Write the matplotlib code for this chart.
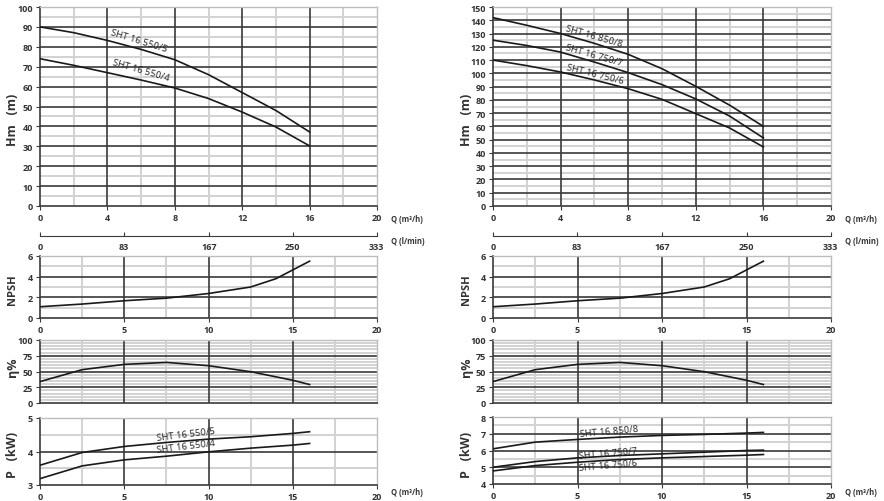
import matplotlib

matplotlib.use("Agg")
import matplotlib.pyplot as plt

plt.rcParams["font.family"] = ["Open Sans", "DejaVu Sans"]

# --- head curves (Q in m3/h) ---
q_head = [0, 2, 4, 6, 8, 10, 12, 14, 16]
h_550_5 = [90, 87.1, 83.2, 78.7, 73.5, 66, 57, 48, 37.2]
h_550_4 = [74, 70.7, 67, 63.3, 59.3, 54, 47.2, 39.7, 30.2]
h_850_8 = [142, 136.2, 130, 122.6, 114.3, 103.5, 90.2, 76, 60]
h_750_7 = [125, 121, 116, 108.5, 100.5, 91.5, 80.7, 67.8, 51.3]
h_750_6 = [110, 105.8, 101, 95, 88.4, 80.4, 69.6, 58.8, 44.5]

# --- NPSH / efficiency / power ---
q_low = [0, 2.5, 5, 7.5, 10, 12.5, 14, 15, 16]
npsh = [1.09, 1.35, 1.67, 1.92, 2.37, 3.0, 3.8, 4.65, 5.5]
q_eff = [0, 2.5, 5, 7.5, 10, 12.5, 15, 16]
eff = [34, 52.9, 61.3, 64.4, 59.2, 49.7, 36.1, 29.3]
q_pow = [0, 2.5, 5, 7.5, 10, 12.5, 15, 16]
p_550_5 = [3.59, 3.97, 4.15, 4.27, 4.37, 4.44, 4.54, 4.59]
p_550_4 = [3.19, 3.57, 3.75, 3.86, 3.99, 4.1, 4.19, 4.24]
p_850_8 = [6.1, 6.5, 6.66, 6.8, 6.9, 6.96, 7.04, 7.08]
p_750_7 = [5.0, 5.34, 5.56, 5.7, 5.8, 5.9, 6.0, 6.02]
p_750_6 = [4.78, 5.1, 5.3, 5.46, 5.56, 5.64, 5.72, 5.76]

lmin_ticks = [0, 83, 167, 250, 333]

TXT = "#333333"
MAJ = "#3a3a3a"
MIN = "#d2d2d2"

fig = plt.figure(figsize=(8.84, 5.02), dpi=100)
W, H = 884, 502


def add_ax(x0, x1, y_top, y_bot):
    return fig.add_axes([x0 / W, 1 - y_bot / H, (x1 - x0) / W, (y_bot - y_top) / H])


def grid(ax, xmaj, xmin, ymaj, ymin, xlim, ylim, xlabels=True):
    ax.set_xlim(*xlim)
    ax.set_ylim(*ylim)
    for v in xmin:
        ax.axvline(v, color=MIN, lw=1.4, zorder=0)
    for v in ymin:
        ax.axhline(v, color=MIN, lw=1.4, zorder=0)
    for v in xmaj[1:-1]:
        ax.axvline(v, color=MAJ, lw=1.2, zorder=1)
    for v in ymaj[1:-1]:
        ax.axhline(v, color=MAJ, lw=1.2, zorder=1)
    ax.set_xticks(xmaj)
    ax.set_yticks(ymaj)
    ax.tick_params(length=3, width=0.8, color=MAJ, labelsize=6.5,
                   labelcolor=TXT, pad=2)
    for lab in ax.get_xticklabels() + ax.get_yticklabels():
        lab.set_fontweight("bold")
    if not xlabels:
        ax.set_xticklabels([])
        ax.tick_params(axis="x", length=0)
    for s in ("top", "right"):
        ax.spines[s].set_color("#bdbdbd")
        ax.spines[s].set_linewidth(1.0)
    for s in ("left", "bottom"):
        ax.spines[s].set_color(MAJ)
        ax.spines[s].set_linewidth(1.2)


def lmin_axis(x0, x1, y):
    ax = add_ax(x0, x1, y - 1, y)
    ax.set_xlim(0, 333.33)
    ax.set_ylim(0, 1)
    ax.set_yticks([])
    for s in ("top", "right", "left"):
        ax.spines[s].set_visible(False)
    ax.spines["bottom"].set_color(MAJ)
    ax.set_xticks(lmin_ticks)
    ax.tick_params(axis="x", direction="in", length=3, color=MAJ,
                   labelsize=6.5, labelcolor=TXT, pad=4)
    for lab in ax.get_xticklabels():
        lab.set_fontweight("bold")
    ax.patch.set_alpha(0)


def curve_label(ax, x, y, s, rot):
    ax.text(x, y, s, fontsize=6.8, color="#222222", rotation=rot,
            ha="left", va="baseline", rotation_mode="anchor", zorder=4)


panels = [(40, 377, "left"), (493, 831, "right")]

for x0, x1, side in panels:
    # head chart
    ax = add_ax(x0, x1, 8, 207)
    if side == "left":
        grid(ax, [0, 4, 8, 12, 16, 20], [2, 6, 10, 14, 18],
             list(range(0, 101, 10)), list(range(5, 100, 10)), (0, 20), (0, 100))
        ax.plot(q_head, h_550_5, color="#1a1a1a", lw=1.2, zorder=3)
        ax.plot(q_head, h_550_4, color="#1a1a1a", lw=1.2, zorder=3)
        curve_label(ax, 4.15, 86.2, "SHT 16 550/5", -17)
        curve_label(ax, 4.26, 71.5, "SHT 16 550/4", -16)
    else:
        grid(ax, [0, 4, 8, 12, 16, 20], [2, 6, 10, 14, 18],
             list(range(0, 151, 10)), list(range(5, 150, 10)), (0, 20), (0, 150))
        ax.plot(q_head, h_850_8, color="#1a1a1a", lw=1.2, zorder=3)
        ax.plot(q_head, h_750_7, color="#1a1a1a", lw=1.2, zorder=3)
        ax.plot(q_head, h_750_6, color="#1a1a1a", lw=1.2, zorder=3)
        curve_label(ax, 4.26, 133.0, "SHT 16 850/8", -16)
        curve_label(ax, 4.26, 118.0, "SHT 16 750/7", -16)
        curve_label(ax, 4.32, 103.5, "SHT 16 750/6", -14)
    fig.text((x1 + 14) / W, 1 - 220 / H, "Q (m³/h)", fontsize=5.5,
             fontweight="bold", color=TXT, va="center")

    lmin_axis(x0, x1, 237)
    fig.text((x1 + 14) / W, 1 - 242 / H, "Q (l/min)", fontsize=5.5,
             fontweight="bold", color=TXT, va="center")

    # NPSH
    ax = add_ax(x0, x1, 257, 319)
    grid(ax, [0, 5, 10, 15, 20], [2.5, 7.5, 12.5, 17.5],
         [0, 2, 4, 6], [1, 3, 5], (0, 20), (0, 6))
    ax.plot(q_low, npsh, color="#1a1a1a", lw=1.2, zorder=3)

    # efficiency
    ax = add_ax(x0, x1, 341, 404)
    grid(ax, [0, 5, 10, 15, 20], [2.5, 7.5, 12.5, 17.5],
         [0, 25, 50, 75, 100], [v for v in range(5, 100, 5) if v % 25],
         (0, 20), (0, 100), xlabels=False)
    ax.plot(q_eff, eff, color="#1a1a1a", lw=1.2, zorder=3)

    # power
    if side == "left":
        ax = add_ax(x0, x1, 419, 486)
        grid(ax, [0, 5, 10, 15, 20], [2.5, 7.5, 12.5, 17.5],
             [3, 4, 5], [3.5, 4.5], (0, 20), (3, 5))
        ax.plot(q_pow, p_550_5, color="#1a1a1a", lw=1.2, zorder=3)
        ax.plot(q_pow, p_550_4, color="#1a1a1a", lw=1.2, zorder=3)
        curve_label(ax, 6.93, 4.34, "SHT 16 550/5", 7)
        curve_label(ax, 6.93, 3.98, "SHT 16 550/4", 7)
    else:
        ax = add_ax(x0, x1, 418, 485)
        grid(ax, [0, 5, 10, 15, 20], [2.5, 7.5, 12.5, 17.5],
             [4, 5, 6, 7, 8], [4.5, 5.5, 6.5, 7.5], (0, 20), (4, 8))
        ax.plot(q_pow, p_850_8, color="#1a1a1a", lw=1.2, zorder=3)
        ax.plot(q_pow, p_750_7, color="#1a1a1a", lw=1.2, zorder=3)
        ax.plot(q_pow, p_750_6, color="#1a1a1a", lw=1.2, zorder=3)
        curve_label(ax, 5.15, 6.85, "SHT 16 850/8", 5)
        curve_label(ax, 5.11, 5.53, "SHT 16 750/7", 5)
        curve_label(ax, 5.11, 4.84, "SHT 16 750/6", 5)
    fig.text((x1 + 14) / W, 1 - 493 / H, "Q (m³/h)", fontsize=5.5,
             fontweight="bold", color=TXT, va="center")

    # y-axis titles
    lx = (x0 - 27) / W
    fig.text(lx, 1 - 120 / H, "Hm   (m)", rotation=90, fontsize=9,
             fontweight="bold", color=TXT, ha="center", va="center")
    fig.text(lx, 1 - 290 / H, "NPSH", rotation=90, fontsize=8,
             fontweight="bold", color=TXT, ha="center", va="center")
    fig.text(lx, 1 - 367 / H, "η%", rotation=90, fontsize=9,
             fontweight="bold", color=TXT, ha="center", va="center")
    fig.text(lx, 1 - 455 / H, "P   (kW)", rotation=90, fontsize=9,
             fontweight="bold", color=TXT, ha="center", va="center")

fig.savefig("out.png", dpi=100)
